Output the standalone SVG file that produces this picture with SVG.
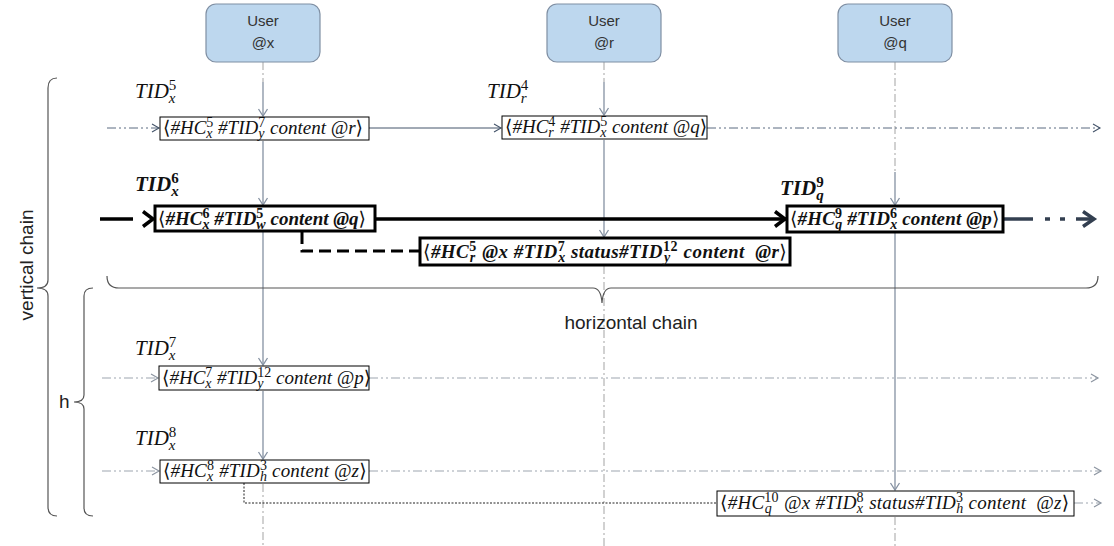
<svg xmlns="http://www.w3.org/2000/svg" width="1114" height="546" viewBox="0 0 1114 546">
  <style>
    .user rect { fill: #bdd7ee; stroke: #7f8fa3; stroke-width: 1.2; }
    .user text { font-family: "Liberation Sans", Arial, sans-serif; font-size: 15px; fill: #333; text-anchor: middle; }
    .box { fill: #fff; stroke: #000; stroke-width: 1; }
    .box.thick { stroke-width: 3; }
    .m { font-family: "Liberation Serif", "Times New Roman", serif; font-style: italic; font-size: 19px; fill: #111; white-space: pre; }
    .m.b { font-weight: bold; }
    .s { font-size: 14px; }
    .d { font-style: normal; }
    .br { font-family: "DejaVu Sans", sans-serif; font-style: normal; font-weight: normal; }
    .lbl { font-family: "Liberation Serif", "Times New Roman", serif; font-style: italic; font-size: 21px; fill: #111; }
    .lbl.b { font-weight: bold; }
    .ls { font-size: 15px; }
    .cap { font-family: "Liberation Sans", Arial, sans-serif; font-size: 19px; fill: #222; }
    .life { stroke: #a3a3a3; stroke-width: 1; stroke-dasharray: 8 3 2 3; fill: none; }
    .lifearrow { stroke: #8591a2; stroke-width: 1.3; fill: none; }
    .dd1 { stroke: #5a6a80; stroke-width: 1; stroke-dasharray: 9 3 2 3 2 3; fill: none; }
    .dd2 { stroke: #9ea6b0; stroke-width: 1.2; stroke-dasharray: 9 3 2 3 2 3; fill: none; }
    .solid1 { stroke: #44546a; stroke-width: 1; fill: none; }
    .heavy { stroke: #000; stroke-width: 3.5; fill: none; }
    .heavydash { stroke: #000; stroke-width: 3; stroke-dasharray: 12 6; fill: none; }
    .dots { stroke: #222; stroke-width: 1; stroke-dasharray: 2 1.5; fill: none; }
    .brace { stroke: #555; stroke-width: 1.2; fill: none; }
  </style>
  <defs>
    <marker id="aLife" markerUnits="userSpaceOnUse" markerWidth="12" markerHeight="12" refX="10" refY="6" orient="auto">
      <path d="M3,1.5 L10,6 L3,10.5" fill="none" stroke="#8591a2" stroke-width="1.3"/>
    </marker>
    <marker id="aDark" markerUnits="userSpaceOnUse" markerWidth="12" markerHeight="12" refX="10" refY="6" orient="auto">
      <path d="M3,2 L10,6 L3,10" fill="none" stroke="#44546a" stroke-width="1.1"/>
    </marker>
    <marker id="aGray" markerUnits="userSpaceOnUse" markerWidth="12" markerHeight="12" refX="10" refY="6" orient="auto">
      <path d="M3,2 L10,6 L3,10" fill="none" stroke="#8c95a1" stroke-width="1.2"/>
    </marker>
    <marker id="aBold" markerUnits="userSpaceOnUse" markerWidth="20" markerHeight="20" refX="16" refY="10" orient="auto">
      <path d="M5,2.5 L15,10 L5,17.5" fill="none" stroke="#000" stroke-width="3.5"/>
    </marker>
  </defs>

  <!-- lifelines and message connectors -->
  <g id="connectors">
    <!-- user @x lifeline -->
    <line class="life" x1="263" y1="62" x2="263" y2="82"/>
    <line class="lifearrow" x1="263" y1="82" x2="263" y2="116" marker-end="url(#aLife)"/>
    <line class="lifearrow" x1="263" y1="141" x2="263" y2="205" marker-end="url(#aLife)"/>
    <line class="lifearrow" x1="263" y1="232" x2="263" y2="365" marker-end="url(#aLife)"/>
    <line class="lifearrow" x1="263" y1="391" x2="263" y2="459" marker-end="url(#aLife)"/>
    <line class="life" x1="263" y1="484" x2="263" y2="546"/>
    <!-- user @r lifeline -->
    <line class="life" x1="604" y1="62" x2="604" y2="82"/>
    <line class="lifearrow" x1="604" y1="82" x2="604" y2="115" marker-end="url(#aLife)"/>
    <line class="lifearrow" x1="604" y1="140" x2="604" y2="237" marker-end="url(#aLife)"/>
    <line class="life" x1="604" y1="266" x2="604" y2="546"/>
    <!-- user @q lifeline -->
    <line class="life" x1="895" y1="62" x2="895" y2="172"/>
    <line class="lifearrow" x1="895" y1="172" x2="895" y2="205" marker-end="url(#aLife)"/>
    <line class="lifearrow" x1="895" y1="233" x2="895" y2="490" marker-end="url(#aLife)"/>
    <line class="life" x1="895" y1="517" x2="895" y2="546"/>

    <!-- row 1 -->
    <line class="dd1" x1="107" y1="128" x2="159" y2="128" marker-end="url(#aDark)"/>
    <line class="solid1" x1="369" y1="128" x2="501" y2="128" marker-end="url(#aDark)"/>
    <line class="dd1" x1="707" y1="128" x2="1100" y2="128" marker-end="url(#aDark)"/>

    <!-- bold row -->
    <line class="heavy" x1="100" y1="219" x2="133" y2="219"/>
    <path d="M143,211.5 L153,219 L143,226.5" fill="none" stroke="#000" stroke-width="3.5"/>
    <line class="heavy" x1="375" y1="219" x2="786" y2="219" marker-end="url(#aBold)"/>
    <path class="heavydash" d="M302,232 V251 H419"/>
    <line x1="1003" y1="219" x2="1033" y2="219" stroke="#333f50" stroke-width="3.5"/>
    <line x1="1045" y1="219" x2="1050" y2="219" stroke="#333f50" stroke-width="3.5"/>
    <line x1="1060" y1="219" x2="1065" y2="219" stroke="#333f50" stroke-width="3.5"/>
    <line x1="1076" y1="219" x2="1093" y2="219" stroke="#333f50" stroke-width="3.5"/>
    <path d="M1083,211.5 L1094,219 L1083,226.5" fill="none" stroke="#333f50" stroke-width="3.5"/>

    <!-- row 6 -->
    <line class="dd2" x1="102" y1="378" x2="158" y2="378" marker-end="url(#aGray)"/>
    <line class="dd2" x1="369" y1="378" x2="1098" y2="378" marker-end="url(#aGray)"/>
    <!-- row 7 -->
    <line class="dd2" x1="102" y1="471" x2="159" y2="471" marker-end="url(#aGray)"/>
    <line class="dd2" x1="369" y1="471" x2="1101" y2="471" marker-end="url(#aGray)"/>
    <!-- row 8 -->
    <path class="dots" d="M244,483 V503 H717"/>
    <line class="dd2" x1="1074" y1="503" x2="1101" y2="503" marker-end="url(#aGray)"/>
  </g>

  <!-- braces -->
  <g id="brace-horizontal">
    <path class="brace" d="M107,276 Q107,288 119,288 H593 Q601,288 602,303 Q603,288 611,288 H1086 Q1098,288 1098,276"/>
    <text class="cap" x="631" y="329" text-anchor="middle">horizontal chain</text>
  </g>
  <g id="brace-vertical">
    <path class="brace" d="M57,78 Q48,78 48,88 V280 Q48,288 37,288 Q48,288 48,296 V507 Q48,516 57,516" stroke="#777"/>
    <text class="cap" transform="translate(33,265) rotate(-90)" text-anchor="middle">vertical chain</text>
  </g>
  <g id="brace-h">
    <path class="brace" d="M93,288 Q84,288 84,296 V395 Q84,402 74,402 Q84,402 84,409 V508 Q84,516 93,516" stroke="#777"/>
    <text class="cap" x="59" y="408">h</text>
  </g>

  <!-- users -->
  <g id="user-x" class="user">
    <rect x="206" y="4" width="114" height="58" rx="10"/>
    <text x="263" y="26">User</text>
    <text x="263" y="48">@x</text>
  </g>
  <g id="user-r" class="user">
    <rect x="547" y="4" width="114" height="58" rx="10"/>
    <text x="604" y="26">User</text>
    <text x="604" y="48">@r</text>
  </g>
  <g id="user-q" class="user">
    <rect x="838" y="4" width="114" height="58" rx="10"/>
    <text x="895" y="26">User</text>
    <text x="895" y="48">@q</text>
  </g>

  <!-- transaction labels -->
  <g id="tid-x5"><text class="lbl" x="135" y="98">TID<tspan class="ls d" dy="-8">5</tspan><tspan class="ls" dx="-7.5" dy="13">x</tspan></text></g>
  <g id="tid-r4"><text class="lbl" x="487" y="98">TID<tspan class="ls d" dy="-8">4</tspan><tspan class="ls" dx="-7.5" dy="13">r</tspan></text></g>
  <g id="tid-x6"><text class="lbl b" x="135" y="191">TID<tspan class="ls d" dy="-8">6</tspan><tspan class="ls" dx="-7.5" dy="13">x</tspan></text></g>
  <g id="tid-q9"><text class="lbl b" x="780" y="195">TID<tspan class="ls d" dy="-8">9</tspan><tspan class="ls" dx="-7.5" dy="13">q</tspan></text></g>
  <g id="tid-x7"><text class="lbl" x="135" y="355">TID<tspan class="ls d" dy="-8">7</tspan><tspan class="ls" dx="-7.5" dy="13">x</tspan></text></g>
  <g id="tid-x8"><text class="lbl" x="135" y="445">TID<tspan class="ls d" dy="-8">8</tspan><tspan class="ls" dx="-7.5" dy="13">x</tspan></text></g>

  <!-- messages -->
  <g id="msg-x5">
    <rect class="box" x="160" y="117" width="209" height="23"/>
    <text class="m" x="163" y="134"><tspan class="br">⟨</tspan>#HC<tspan class="s d" dy="-7">5</tspan><tspan class="s" dx="-7" dy="11">x</tspan><tspan dx="0.8" dy="-4"> #TID</tspan><tspan class="s d" dy="-7">7</tspan><tspan class="s" dx="-7" dy="11">y</tspan><tspan dx="0.8" dy="-4"> content @r</tspan><tspan class="br">⟩</tspan></text>
  </g>
  <g id="msg-r4">
    <rect class="box" x="502" y="116" width="205" height="23"/>
    <text class="m" x="505" y="133"><tspan class="br">⟨</tspan>#HC<tspan class="s d" dy="-7">4</tspan><tspan class="s" dx="-7" dy="11">r</tspan><tspan dx="1.6" dy="-4"> #TID</tspan><tspan class="s d" dy="-7">5</tspan><tspan class="s" dx="-7" dy="11">x</tspan><tspan dx="0.8" dy="-4"> content @q</tspan><tspan class="br">⟩</tspan></text>
  </g>
  <g id="msg-x6">
    <rect class="box thick" x="155" y="206" width="220" height="25"/>
    <text class="m b" x="158" y="225"><tspan class="br">⟨</tspan>#HC<tspan class="s d" dy="-7">6</tspan><tspan class="s" dx="-7" dy="11">x</tspan><tspan dy="-4"> #TID</tspan><tspan class="s d" dy="-7">5</tspan><tspan class="s" dx="-7" dy="11">w</tspan><tspan dy="-4"> content @q</tspan><tspan class="br">⟩</tspan></text>
  </g>
  <g id="msg-q9">
    <rect class="box thick" x="787" y="206" width="216" height="26"/>
    <text class="m b" x="790" y="225" letter-spacing="0.15"><tspan class="br">⟨</tspan>#HC<tspan class="s d" dy="-7">9</tspan><tspan class="s" dx="-7" dy="11">q</tspan><tspan dy="-4"> #TID</tspan><tspan class="s d" dy="-7">6</tspan><tspan class="s" dx="-7" dy="11">x</tspan><tspan dy="-4"> content @p</tspan><tspan class="br">⟩</tspan></text>
  </g>
  <g id="msg-r5">
    <rect class="box thick" x="420" y="238" width="370" height="27"/>
    <text class="m b" x="423" y="258" letter-spacing="0.45"><tspan class="br">⟨</tspan>#HC<tspan class="s d" dy="-7">5</tspan><tspan class="s" dx="-7" dy="11">r</tspan><tspan dx="1.6" dy="-4"> @x #TID</tspan><tspan class="s d" dy="-7">7</tspan><tspan class="s" dx="-7" dy="11">x</tspan><tspan dy="-4"> status#TID</tspan><tspan class="s d" dy="-7">12</tspan><tspan class="s" dx="-14" dy="11">y</tspan><tspan dx="7.8" dy="-4"> content  @r</tspan><tspan class="br">⟩</tspan></text>
  </g>
  <g id="msg-x7">
    <rect class="box" x="159" y="366" width="210" height="24"/>
    <text class="m" x="162" y="384"><tspan class="br">⟨</tspan>#HC<tspan class="s d" dy="-7">7</tspan><tspan class="s" dx="-7" dy="11">x</tspan><tspan dx="0.8" dy="-4"> #TID</tspan><tspan class="s d" dy="-7">12</tspan><tspan class="s" dx="-14" dy="11">y</tspan><tspan dx="7.8" dy="-4"> content @p</tspan><tspan class="br">⟩</tspan></text>
  </g>
  <g id="msg-x8">
    <rect class="box" x="160" y="460" width="209" height="23"/>
    <text class="m" x="163" y="477" letter-spacing="0.15"><tspan class="br">⟨</tspan>#HC<tspan class="s d" dy="-7">8</tspan><tspan class="s" dx="-7" dy="11">x</tspan><tspan dx="0.8" dy="-4"> #TID</tspan><tspan class="s d" dy="-7">3</tspan><tspan class="s" dx="-7" dy="11">h</tspan><tspan dy="-4"> content @z</tspan><tspan class="br">⟩</tspan></text>
  </g>
  <g id="msg-q10">
    <rect class="box" x="717" y="491" width="357" height="25"/>
    <text class="m" x="720" y="509" letter-spacing="0.25"><tspan class="br">⟨</tspan>#HC<tspan class="s d" dy="-7">10</tspan><tspan class="s" dx="-14" dy="11">q</tspan><tspan dx="7" dy="-4"> @x #TID</tspan><tspan class="s d" dy="-7">8</tspan><tspan class="s" dx="-7" dy="11">x</tspan><tspan dx="0.8" dy="-4"> status#TID</tspan><tspan class="s d" dy="-7">3</tspan><tspan class="s" dx="-7" dy="11">h</tspan><tspan dy="-4"> content  @z</tspan><tspan class="br">⟩</tspan></text>
  </g>
</svg>
